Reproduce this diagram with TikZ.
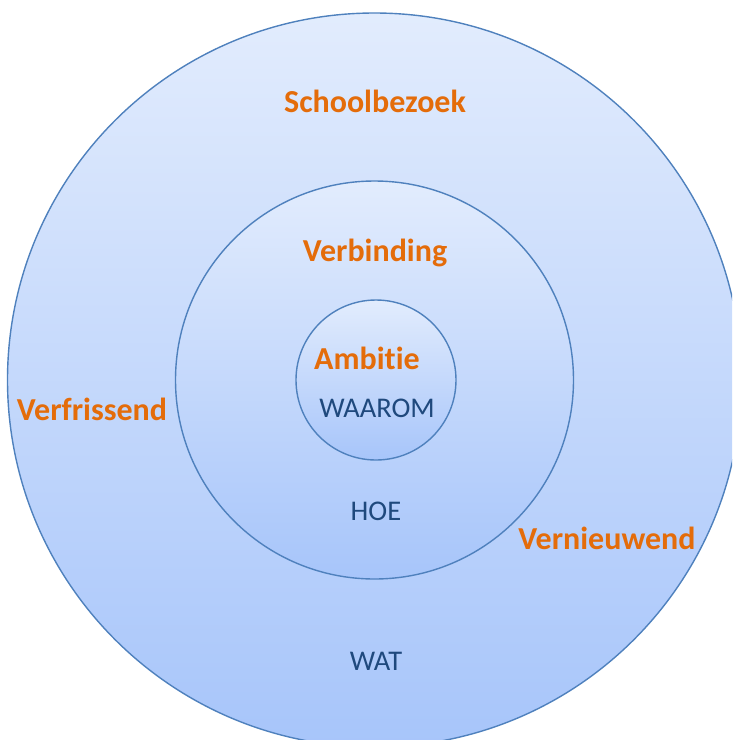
\documentclass[tikz,border=0pt]{standalone}
\usepackage{fontspec}
\setmainfont{Carlito}[Ligatures=NoCommon]
\usepackage{xcolor}
\usetikzlibrary{positioning}

\definecolor{ringline}{HTML}{4F81BD}
\definecolor{ringtop}{HTML}{E2ECFD}
\definecolor{ringbot}{HTML}{A7C5FA}
\definecolor{keyword}{HTML}{E46C0A}
\definecolor{question}{HTML}{1F497D}

\begin{document}
\begin{tikzpicture}[
  x=1pt, y=-1pt,
  ring/.style={draw=ringline, line width=1.4pt, circle, inner sep=0pt,
               minimum size=#1, top color=ringtop, bottom color=ringbot},
  kw/.style={font=\fontsize{32}{38}\selectfont\bfseries, text=keyword,
             inner sep=0pt},
  ask/.style={font=\fontsize{28.5}{34}\selectfont, text=question,
              inner sep=0pt},
]
\useasboundingbox (0,0) rectangle (732,740);
\clip (0,0) rectangle (732,740);

%% --- Cirkels ---
\node[ring=734pt] (wat)    at (374.5,380) {};
\node[ring=398pt] (hoe)    at (374.5,380) {};
\node[ring=160pt] (waarom) at (376,380)   {};

%% --- Teksten ---
\node[kw]  (school)  at (375,101) {Schoolbezoek};
\node[kw]  (verb)    at (375,253) {Verbinding};
\node[kw]  (amb)     at (367,358) {Ambitie};
\node[ask] (waaromt) at (377,408) {WAAROM};
\node[ask] (hoet)    at (376,511) {HOE};
\node[ask] (watt)    at (376,661) {WAT};
\node[kw]  (verfr)   at (92,409)  {Verfrissend};
\node[kw]  (vernw)   at (607,538) {Vernieuwend};

\end{tikzpicture}
\end{document}
